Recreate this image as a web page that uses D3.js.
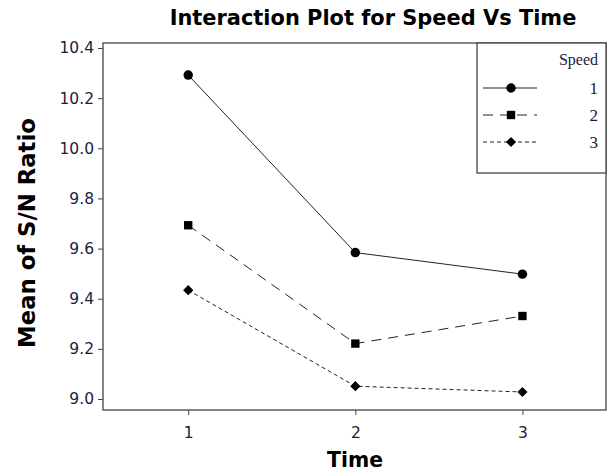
<!DOCTYPE html>
<html><head><meta charset="utf-8">
<script src="https://cdn.jsdelivr.net/npm/d3@7"></script>
<style>body{margin:0;background:#fff}svg{display:block}</style>
</head><body><div id="chart"></div>
<script>
const times = [1, 2, 3];
const speeds = ["1", "2", "3"];
const speed1 = [10.292, 9.584, 9.498];
const speed2 = [9.693, 9.221, 9.331];
const speed3 = [9.434, 9.051, 9.028];
const yTicks = [9.0, 9.2, 9.4, 9.6, 9.8, 10.0, 10.2, 10.4];
const title = "Interaction Plot for Speed Vs Time";
const xLabel = "Time";
const yLabel = "Mean of S/N Ratio";
const legendTitle = "Speed";

const W = 614, H = 473;
const plot = {l: 103, t: 43, r: 606, b: 410};
const svg = d3.select("#chart").append("svg").attr("width", W).attr("height", H);

const x = d3.scaleLinear().domain([0.49, 3.5]).range([plot.l, plot.r]);
const y = d3.scaleLinear().domain([9.0, 10.4]).range([399, 48]);

const seriesData = [speed1, speed2, speed3];
const dashes = [null, "10,7", "4,3"];
const symbols = [d3.symbolCircle, d3.symbolSquare, d3.symbolSquare];
const symSizes = [70, 70, 52];
const symRot = [0, 0, 45];

// frame
svg.append("rect").attr("x", plot.l).attr("y", plot.t)
  .attr("width", plot.r - plot.l).attr("height", plot.b - plot.t)
  .attr("fill", "none").attr("stroke", "#444").attr("stroke-width", 1.3);

// y axis
const yAxis = svg.append("g").attr("transform", `translate(${plot.l},0)`)
  .call(d3.axisLeft(y).tickValues(yTicks).tickFormat(d3.format(".1f")).tickSize(5).tickSizeOuter(0));
yAxis.select(".domain").remove();
yAxis.selectAll("line").attr("stroke", "#444");
yAxis.selectAll("text").attr("font-family", "DejaVu Sans, Tahoma, sans-serif")
  .attr("font-size", 15.5).attr("fill", "#1c1c3c").attr("dx", -1);

// x axis
const xAxis = svg.append("g").attr("transform", `translate(0,${plot.b})`)
  .call(d3.axisBottom(x).tickValues(times).tickFormat(d3.format("d")).tickSize(5).tickSizeOuter(0));
xAxis.select(".domain").remove();
xAxis.selectAll("line").attr("stroke", "#444");
xAxis.selectAll("text").attr("font-family", "DejaVu Sans, Tahoma, sans-serif")
  .attr("font-size", 15.5).attr("fill", "#1c1c3c").attr("dy", "1.3em");

// lines
const line = d3.line().x((d, i) => x(times[i])).y(d => y(d));
seriesData.forEach((s, k) => {
  svg.append("path").datum(s).attr("d", line).attr("fill", "none")
    .attr("stroke", "#222").attr("stroke-width", 1)
    .attr("stroke-dasharray", dashes[k]);
  svg.selectAll(null).data(s).enter().append("path")
    .attr("transform", (d, i) => `translate(${x(times[i])},${y(d)}) rotate(${symRot[k]})`)
    .attr("d", d3.symbol().type(symbols[k]).size(symSizes[k]))
    .attr("fill", "#000");
});

// legend
svg.append("rect").attr("x", 477).attr("y", plot.t).attr("width", plot.r - 477).attr("height", 173 - plot.t)
  .attr("fill", "#fff").attr("stroke", "#444").attr("stroke-width", 1.3);
svg.append("text").attr("x", 598).attr("y", 65).attr("text-anchor", "end")
  .attr("font-family", "Liberation Serif, Times New Roman, serif").attr("font-size", 16)
  .attr("fill", "#1c1c3c").text(legendTitle);
const rowY = [88, 115, 142];
speeds.forEach((sp, k) => {
  svg.append("line").attr("x1", 483).attr("x2", 537).attr("y1", rowY[k]).attr("y2", rowY[k])
    .attr("stroke", "#222").attr("stroke-width", 1).attr("stroke-dasharray", dashes[k]);
  svg.append("path").attr("transform", `translate(511,${rowY[k]}) rotate(${symRot[k]})`)
    .attr("d", d3.symbol().type(symbols[k]).size(symSizes[k])).attr("fill", "#000");
  svg.append("text").attr("x", 598).attr("y", rowY[k] + 6).attr("text-anchor", "end")
    .attr("font-family", "Liberation Serif, Times New Roman, serif").attr("font-size", 17)
    .attr("fill", "#2a1030").text(sp);
});

// titles
const fitText = (sel, target) => {
  const w = sel.node().getComputedTextLength();
  const fs = parseFloat(sel.attr("font-size"));
  sel.attr("font-size", fs * target / w);
};
const t = svg.append("text").attr("x", 373).attr("y", 25).attr("text-anchor", "middle")
  .attr("font-family", "DejaVu Sans, Tahoma, sans-serif").attr("font-weight", "bold")
  .attr("font-size", 18).attr("fill", "#000").text(title);
fitText(t, 407);
const xl = svg.append("text").attr("x", 355).attr("y", 467).attr("text-anchor", "middle")
  .attr("font-family", "DejaVu Sans, Tahoma, sans-serif").attr("font-weight", "bold")
  .attr("font-size", 19).attr("fill", "#000").text(xLabel);
fitText(xl, 56);
const yl = svg.append("text").attr("transform", "translate(35,233) rotate(-90)").attr("text-anchor", "middle")
  .attr("font-family", "DejaVu Sans, Tahoma, sans-serif").attr("font-weight", "bold")
  .attr("font-size", 19).attr("fill", "#000").text(yLabel);
fitText(yl, 230);
</script></body></html>
